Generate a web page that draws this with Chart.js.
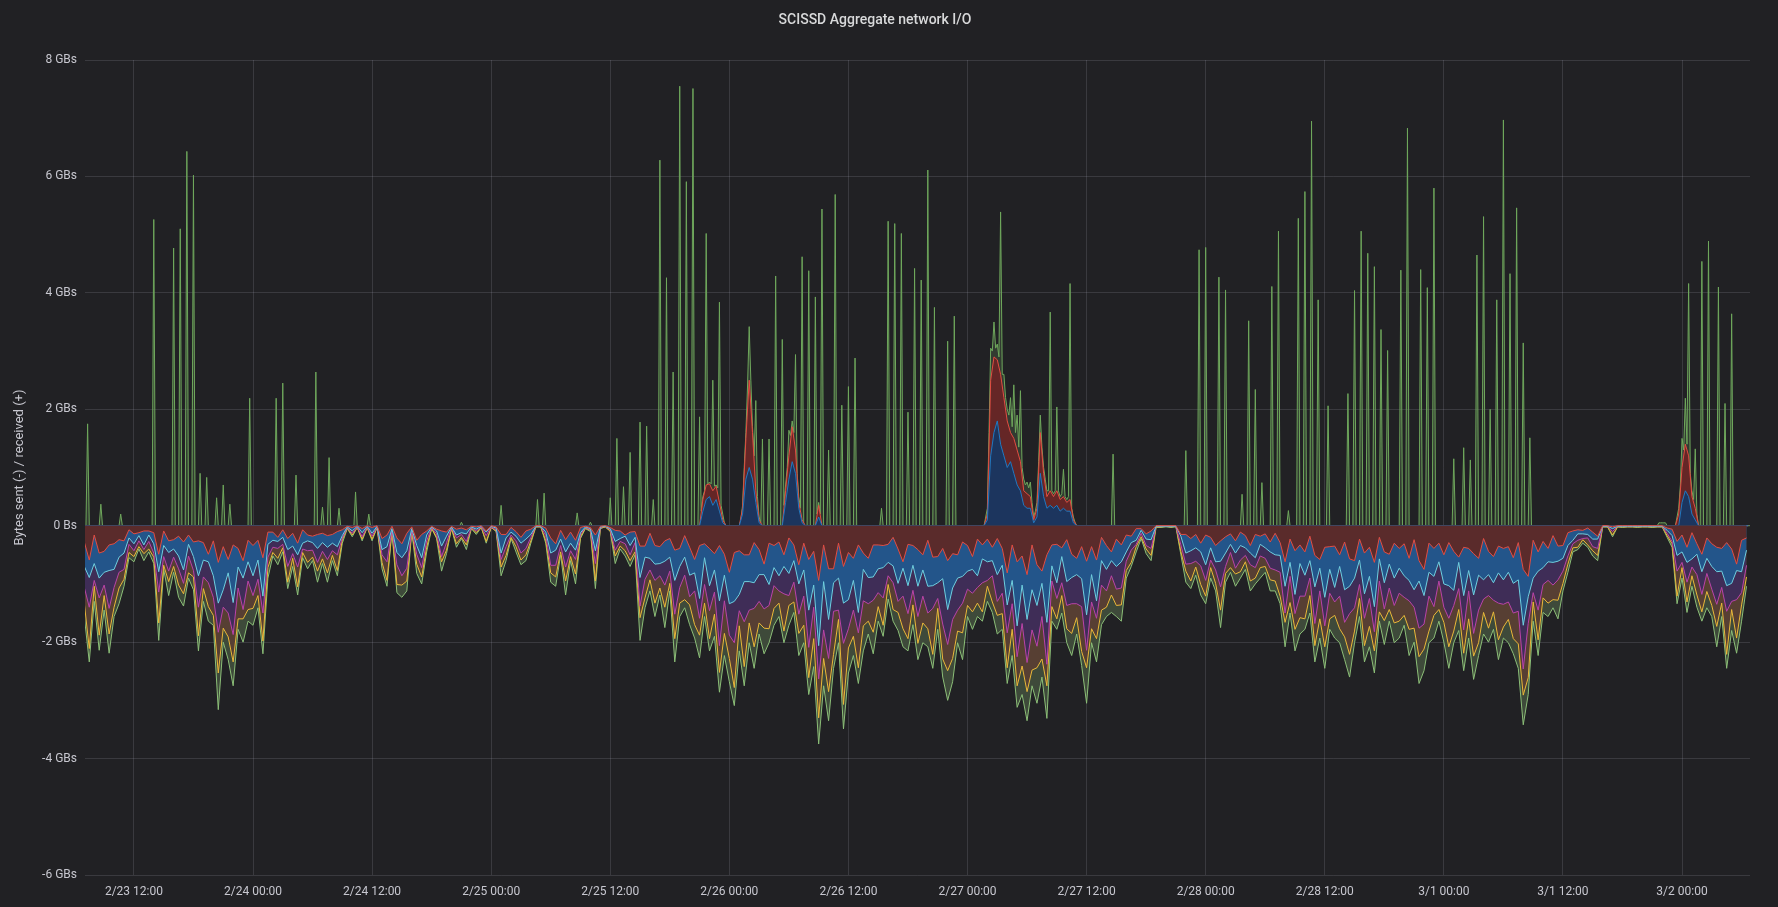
<!DOCTYPE html>
<html><head><meta charset="utf-8">
<script src="https://cdn.jsdelivr.net/npm/chart.js@4.4.1/dist/chart.umd.min.js"></script>
<style>html,body{margin:0;padding:0;background:#212124;}canvas{display:block;}</style>
</head><body>
<canvas id="c" width="1778" height="907"></canvas>
<script>
// Time axis: hours since 2/23 07:00
const tickHours = [5,17,29,41,53,65,77,89,101,113,125,137,149,161];
const tickLabels = ['2/23 12:00','2/24 00:00','2/24 12:00','2/25 00:00','2/25 12:00','2/26 00:00','2/26 12:00','2/27 00:00','2/27 12:00','2/28 00:00','2/28 12:00','3/1 00:00','3/1 12:00','3/2 00:00'];
const stepSent = 0.5, stepRecvTotal = 1/6, stepRecvParts = 1/3;

// Bytes sent (GB, drawn negative), stacked levels, every 30 min
const sentTotal = [
1.56,2.34,1.3,2.14,1.45,2.19,1.56,1.34,1.04,0.55,
0.62,0.4,0.6,0.45,0.65,1.97,0.75,1.2,0.8,1.23,
1.38,0.9,1.1,2.15,1.3,1.64,1.71,3.16,2.0,2.3,
2.75,1.78,2.0,1.64,1.71,1.41,2.2,0.9,0.52,0.67,
0.45,1.08,0.7,1.19,0.55,0.74,0.6,0.97,0.65,0.97,
0.6,0.86,0.3,0.05,0.19,0.03,0.26,0.03,0.26,0.03,
0.74,1.04,0.1,1.15,1.23,1.12,0.1,0.82,1.0,0.45,
0.05,0.22,0.78,0.48,0.05,0.37,0.22,0.41,0.05,0.15,
0.03,0.3,0.03,0.1,0.86,0.6,0.22,0.45,0.67,0.6,
0.3,0.02,0.02,0.3,0.97,1.04,0.5,1.19,0.6,1.0,
0.22,0.05,0.1,1.08,0.05,0.02,0.1,0.65,0.4,0.52,
0.7,0.5,1.97,1.41,1.12,1.56,1.19,1.75,1.12,2.34,
1.56,1.41,1.7,1.93,2.27,1.56,2.15,1.9,2.86,2.23,
2.68,3.09,2.15,2.75,2.01,2.45,1.86,2.2,2.01,1.71,
1.56,2.01,1.71,1.49,2.23,2.01,2.9,2.42,3.75,2.75,
3.35,2.45,2.01,3.49,2.53,2.23,2.71,2.15,1.86,2.2,
1.64,1.9,1.26,1.64,1.8,2.08,2.15,1.7,2.3,2.01,
2.08,2.45,1.78,2.6,3.0,2.68,2.01,2.3,1.56,1.78,
1.56,1.64,1.3,1.49,1.86,1.78,2.71,2.23,3.12,2.9,
3.35,2.75,3.05,2.6,3.31,1.64,1.78,1.5,2.01,2.23,
1.86,2.4,3.05,2.01,2.34,1.7,1.56,1.49,1.56,1.64,
0.9,0.7,0.45,0.22,0.48,0.6,0.03,0.03,0.02,0.03,
0.02,0.5,0.97,1.08,0.85,1.19,1.34,0.9,1.12,1.75,
0.97,0.8,1.04,0.9,0.75,1.12,1.0,0.9,0.8,1.12,
1.12,1.34,2.08,1.5,2.15,1.86,1.78,1.5,2.34,1.93,
2.45,1.78,1.93,2.01,2.3,2.6,2.01,1.56,2.34,2.08,
2.53,1.64,2.04,1.64,2.01,1.93,1.71,2.23,2.0,2.71,
2.49,2.01,1.93,1.64,2.0,2.45,2.01,1.8,2.49,1.93,
2.64,2.23,1.86,2.0,1.78,2.3,1.93,2.01,2.2,2.45,
3.42,2.9,1.64,2.23,1.49,1.56,1.41,1.6,1.12,0.8,
0.45,0.41,0.3,0.37,0.52,0.6,0.02,0.02,0.19,0.02,
0.03,0.02,0.02,0.03,0.02,0.02,0.03,0.02,0.02,0.2,
0.37,1.34,0.9,1.49,1.04,1.4,1.64,1.41,1.56,2.08,
1.56,2.45,1.8,2.19,1.64,1.04];
const sentYellow = [
1.33,2.11,1.04,1.88,1.2,1.86,1.4,1.07,.92,.46,
.53,.36,.48,.4,.54,1.67,.68,.96,.7,1.02,
1.17,.81,.88,1.89,1.08,1.39,1.54,2.53,1.76,1.91,
2.34,1.6,1.6,1.44,1.42,1.2,1.98,.72,.46,.56,
.38,.97,.56,1.05,.46,.63,.54,.78,.57,.81,
.51,.77,.24,.04,.16,.03,.23,.03,.23,.03,
.63,.94,.08,1.01,1.02,.95,.09,.66,.88,.37,
.04,.2,.62,.42,.04,.31,.2,.33,.04,.12,
.03,.27,.03,.09,.71,.51,.2,.36,.59,.5,
.26,.02,.02,.26,.81,.88,.45,.95,.53,.83,
.19,.04,.08,.95,.04,.02,.09,.52,.35,.43,
.6,.45,1.58,1.24,.93,1.33,1.07,1.4,.99,1.94,
1.33,1.27,1.36,1.7,1.88,1.33,1.94,1.52,2.52,1.85,
2.28,2.78,1.72,2.42,1.67,2.08,1.67,1.76,1.77,1.42,
1.33,1.81,1.37,1.31,1.85,1.71,2.61,1.94,3.3,2.28,
2.85,2.21,1.61,3.07,2.1,1.9,2.44,1.72,1.64,1.83,
1.39,1.71,1.01,1.44,1.49,1.77,1.94,1.36,2.02,1.67,
1.77,2.21,1.42,2.29,2.49,2.28,1.81,1.84,1.37,1.48,
1.33,1.48,1.04,1.31,1.54,1.51,2.44,1.78,2.75,2.41,
2.85,2.48,2.44,2.29,2.75,1.39,1.6,1.2,1.77,1.85,
1.58,2.16,2.44,1.77,1.94,1.45,1.4,1.19,1.37,1.36,
.77,.63,.36,.19,.4,.51,.02,.02,.01,.02,
.01,.45,.78,.95,.71,1.01,1.21,.72,.99,1.45,
.82,.72,.83,.79,.62,.95,.9,.72,.7,.93,
.95,1.21,1.66,1.32,1.78,1.58,1.6,1.2,2.06,1.6,
2.08,1.6,1.54,1.77,1.91,2.21,1.81,1.25,2.06,1.73,
2.15,1.48,1.63,1.44,1.67,1.64,1.54,1.78,1.76,2.25,
2.12,1.81,1.54,1.44,1.66,2.08,1.81,1.44,2.19,1.6,
2.24,2.01,1.49,1.76,1.48,1.96,1.74,1.61,1.94,2.03,
2.91,2.61,1.31,1.96,1.24,1.33,1.27,1.28,.99,.66,
.38,.37,.24,.33,.43,.51,.02,.02,.16,.02,
.02,.02,.02,.02,.02,.02,.02,.02,.02,.17,
.31,1.21,.72,1.31,.86,1.19,1.48,1.13,1.37,1.73,
1.33,2.21,1.44,1.93,1.36,.88];
const sentPink = [
1.06,1.4,.94,1.24,1.02,1.42,1.06,.8,.75,.32,
.43,.26,.41,.27,.47,1.14,.53,.78,.54,.74,
.99,.52,.77,1.4,.88,.98,1.23,1.83,1.4,1.5,
1.87,1.07,1.44,.95,1.2,.92,1.5,.54,.37,.39,
.32,.7,.48,.71,.4,.43,.42,.63,.44,.58,
.43,.5,.21,.03,.13,.02,.19,.02,.18,.02,
.5,.62,.07,.67,.86,.73,.07,.49,.72,.26,
.03,.14,.53,.29,.03,.21,.15,.27,.03,.09,
.02,.17,.02,.07,.58,.36,.16,.26,.47,.39,
.2,.01,.01,.17,.68,.68,.34,.71,.43,.58,
.15,.03,.07,.65,.03,.01,.07,.42,.27,.31,
.5,.29,1.38,.92,.76,.94,.86,1.02,.78,1.52,
1.06,.85,1.22,1.12,1.59,1.01,1.46,1.14,2.06,1.29,
1.88,2.01,1.46,1.65,1.45,1.42,1.3,1.43,1.37,1.03,
1.12,1.17,1.2,.97,1.52,1.21,2.09,1.4,2.63,1.79,
2.28,1.47,1.45,2.02,1.77,1.45,1.84,1.29,1.34,1.28,
1.15,1.24,.86,.98,1.3,1.21,1.51,1.11,1.56,1.21,
1.5,1.42,1.25,1.69,2.04,1.61,1.45,1.33,1.09,1.16,
1.06,.98,.94,.86,1.3,1.16,1.84,1.34,2.25,1.68,
2.35,1.79,2.07,1.56,2.38,.95,1.25,.98,1.37,1.34,
1.34,1.39,2.14,1.31,1.59,1.02,1.12,.86,1.09,1.07,
.61,.42,.32,.13,.34,.39,.01,.01,.01,.01,
.01,.33,.66,.65,.61,.69,.94,.59,.76,1.05,
.7,.46,.73,.59,.51,.67,.72,.52,.56,.73,
.76,.8,1.5,.87,1.51,1.21,1.21,.9,1.68,1.12,
1.72,1.16,1.31,1.21,1.66,1.51,1.41,1.01,1.59,1.25,
1.82,.95,1.43,1.07,1.37,1.16,1.23,1.29,1.4,1.76,
1.69,1.21,1.39,.95,1.4,1.59,1.37,1.08,1.79,1.12,
1.85,1.45,1.26,1.2,1.28,1.33,1.35,1.31,1.5,1.47,
2.46,1.68,1.15,1.45,1.01,.94,1.02,.93,.78,.52,
.31,.25,.22,.21,.36,.39,.01,.01,.1,.01,
.01,.01,.01,.01,.01,.01,.01,.01,.01,.13,
.27,.78,.63,.97,.71,.84,1.18,.82,1.09,1.35,
1.06,1.47,1.3,1.27,1.15,.68];
const sentBlue = [
.7,.89,.65,.9,.8,.77,.75,.54,.47,.21,
.31,.17,.33,.16,.31,.79,.34,.46,.4,.52,
.76,.32,.53,.86,.59,.62,.86,1.33,1.1,.81,
1.32,.71,.9,.62,.86,.59,1.21,.32,.25,.27,
.2,.41,.35,.5,.3,.26,.29,.39,.29,.37,
.3,.36,.17,.02,.09,.01,.12,.01,.13,.01,
.41,.36,.05,.46,.55,.43,.05,.34,.55,.16,
.02,.09,.35,.18,.02,.16,.12,.14,.02,.06,
.01,.11,.01,.04,.47,.21,.11,.18,.3,.23,
.15,.01,.01,.11,.47,.42,.23,.45,.3,.42,
.12,.02,.05,.43,.02,.01,.05,.27,.22,.18,
.34,.2,.89,.54,.56,.66,.65,.61,.54,.94,
.7,.54,.85,.81,1.25,.55,1.03,.76,1.29,.85,
1.34,1.3,1.18,.96,.96,.98,.84,.84,1.01,.72,
.86,.7,.82,.6,1.0,.76,1.45,1.02,2.06,.96,
1.61,.98,.9,1.33,1.27,.94,1.49,.75,.89,.88,
.74,.72,.63,.69,.99,.73,1.03,.68,1.04,.76,
1.04,1.03,.98,.91,1.44,1.07,.9,.87,.78,.75,
.86,.57,.62,.6,.84,.68,1.36,.94,1.72,1.02,
1.61,1.1,1.37,.99,1.66,.69,.98,.53,.96,.89,
.84,.91,1.53,.84,1.29,.6,.75,.6,.7,.62,
.45,.29,.25,.08,.23,.24,.01,.01,.01,.01,
.01,.18,.47,.43,.38,.45,.67,.38,.62,.61,
.47,.32,.47,.34,.38,.47,.55,.32,.38,.45,
.5,.51,1.04,.63,1.18,.65,.85,.6,1.05,.73,
1.23,.75,1.06,.7,1.1,1.04,.9,.59,1.17,.87,
1.39,.57,.98,.66,.9,.73,.86,.94,1.1,.95,
1.2,.8,.87,.62,1.0,1.03,1.11,.63,1.2,.77,
1.19,.85,.93,.84,.98,.81,.93,.8,.99,.93,
1.71,1.22,.9,.78,.72,.62,.63,.61,.56,.34,
.25,.14,.14,.15,.23,.23,.01,.01,.05,.01,
.01,.01,.01,.01,.01,.01,.01,.01,.01,.08,
.17,.51,.45,.63,.57,.49,.79,.56,.7,.79,
.78,1.03,.99,.77,.79,.42];
const sentRed = [
.28,.59,.16,.47,.44,.33,.31,.24,.26,.07,
.14,.12,.09,.09,.12,.49,.09,.26,.24,.18,
.28,.16,.28,.26,.29,.49,.26,.63,.36,.58,
.33,.39,.6,.25,.34,.25,.55,.11,.11,.2,
.07,.22,.13,.3,.07,.16,.18,.15,.13,.17,
.15,.1,.07,.01,.03,0,.05,0,.03,0,
.22,.16,.01,.21,.31,.13,.02,.25,.15,.09,
.01,.06,.09,.11,.01,.06,.04,.07,.01,.02,
0,.09,0,.02,.15,.15,.03,.1,.2,.09,
.06,0,0,.04,.21,.31,.08,.24,.11,.25,
.03,.01,.03,.16,.01,0,.03,.08,.09,.16,
.11,.1,.35,.35,.13,.34,.36,.26,.22,.42,
.39,.17,.37,.58,.34,.31,.39,.48,.34,.49,
.8,.46,.43,.5,.5,.29,.41,.66,.3,.34,
.28,.5,.21,.33,.67,.3,.58,.44,.94,.33,
.74,.74,.3,.7,.46,.56,.33,.47,.56,.33,
.33,.34,.32,.2,.4,.62,.32,.34,.41,.5,
.25,.54,.53,.39,.6,.48,.5,.28,.34,.53,
.23,.33,.23,.37,.22,.39,.81,.33,.62,.52,
.84,.33,.67,.78,.5,.33,.32,.38,.24,.49,
.56,.36,.61,.36,.59,.2,.34,.45,.23,.33,
.16,.18,.05,.05,.14,.09,0,0,0,0,
0,.15,.15,.22,.15,.3,.16,.2,.34,.26,
.19,.14,.26,.11,.17,.34,.15,.18,.14,.28,
.13,.29,.62,.23,.43,.33,.45,.18,.51,.58,
.37,.36,.35,.5,.28,.57,.6,.23,.47,.37,
.63,.2,.45,.49,.3,.39,.31,.56,.24,.6,
.75,.3,.39,.3,.5,.29,.44,.54,.37,.39,
.48,.56,.22,.44,.53,.35,.39,.36,.55,.29,
.75,.87,.25,.45,.27,.39,.17,.35,.34,.12,
.09,.07,.08,.04,.11,.18,0,0,.02,0,
0,0,0,0,0,0,0,0,0,.04,
.06,.27,.16,.37,.12,.31,.49,.21,.31,.37,
.39,.29,.4,.66,.25,.21];

// Bytes received (GB, positive), total, every 10 min
const recvTotal = [
0,0,1.75,0,0,0,0,0,0,0,0.37,0,0,0,0,0,0,0,0,0,0,0,0.2,0,
0,0,0,0,0,0,0,0,0,0,0,0,0,0,0,0,0,0,5.26,0,0,0,0,0,
0,0,0,0,0,0,4.77,0,0,0,5.1,0,0,0,6.43,0,0,0,6.02,0,0,0,0.9,0,
0,0,0.83,0,0,0,0,0,0.48,0,0,0,0.7,0,0,0,0.37,0,0,0,0,0,0,0,
0,0,0,0,2.19,0,0,0,0,0,0,0,0,0,0,0,0,0,0,0,2.19,0,0,0,
2.45,0,0,0,0,0,0,0,0.87,0,0,0,0,0,0,0,0,0,0,0,2.64,0,0,0,
0.32,0,0,0,1.17,0,0,0,0,0,0.3,0,0,0,0,0,0,0,0,0,0.58,0,0,0,
0,0,0,0,0.2,0,0,0,0,0,0,0,0,0,0,0,0,0,0,0,0,0,0,0,
0,0,0,0,0,0,0,0,0,0,0,0,0,0,0,0,0,0,0,0,0,0,0,0,
0,0,0,0,0,0,0,0,0,0,0,0,0.06,0,0,0,0,0,0,0,0,0,0,0,
0,0,0,0,0,0,0,0,0,0,0,0,0.35,0,0,0,0,0,0,0,0,0,0,0,
0,0,0,0,0,0,0,0,0,0,0.45,0,0,0,0.56,0,0,0,0,0,0,0,0,0,
0,0,0,0,0,0,0,0,0,0,0.22,0,0,0,0,0,0,0,0.06,0,0,0,0,0,
0,0,0,0,0,0,0.48,0,0,0,1.5,0,0,0,0.67,0,0,0,1.26,0,0,0,0,0,
1.78,0,0,0,1.71,0,0,0,0.45,0,0,0,6.28,0,0,0,4.26,0,0,0,2.64,0,0,0,
7.55,0,0,0,5.91,0,0,0,7.51,0,0,0,1.87,0.25,0.5,0.6,5.02,0.72,0.75,0.72,2.5,0.68,0.7,0.65,
3.84,0.35,0.2,0.05,0,0,0,0,0,0,0,0,0,0.1,0.35,1.0,1.6,2.4,3.42,2.5,1.7,1.2,2.15,0.5,
0.15,0.05,1.49,0,0,0,1.49,0,0,0,4.29,0,0,0,3.2,0.35,0.7,1.0,1.64,1.55,1.8,1.6,2.94,0.9,
0.5,0.3,4.62,0,0,0,4.38,0,0,0,3.93,0.2,0.4,0.2,5.44,0,0,0,1.3,0,0,0,5.69,0,
0,0,2.07,0,0,0,2.39,0,0,0,2.88,0,0,0,0,0,0,0,0,0,0,0,0,0,
0,0,0.3,0,0,0,5.23,0,0,0,5.19,0,0,0,5.02,0,0,0,1.95,0,0,0,4.42,0,
0,0,4.22,0,0,0,6.11,0,0,0,3.75,0,0,0,0,0,0,0,3.17,0,0,0,3.6,0,
0,0,0,0,0,0,0,0,0,0,0,0,0,0,0,0,0,0.15,0.3,1.6,3.05,3.0,3.5,3.05,
3.12,2.9,5.39,2.6,2.6,2.2,2.0,1.9,2.2,1.7,2.42,1.6,1.9,1.35,2.32,1.0,0.8,0.7,0.75,0.65,0.75,0.4,0.15,0.25,
0.4,1.1,1.9,1.35,1.0,0.8,0.6,0.6,3.67,0.6,0.55,0.6,2.04,0.6,0.5,0.55,0.97,0.5,0.45,0.5,4.16,0.3,0.15,0.06,
0,0,0,0,0,0,0,0,0,0,0,0,0,0,0,0,0,0,0,0,0,0,1.23,0,
0,0,0,0,0,0,0,0,0,0,0,0,0,0,0,0,0,0,0,0,0,0,0,0,
0,0,0,0,0,0,0,0,0,0,0,0,0,0,0,0,0,0,1.29,0,0,0,0,0,
0,0,4.74,0,0,0,4.78,0,0,0,0,0,0,0,4.27,0,0,0,4.05,0,0,0,0,0,
0,0,0,0,0.54,0,0,0,3.52,0,0,0,2.34,0,0,0,0.74,0,0,0,0,0,4.11,0,
0,0,5.06,0,0,0,0,0,0.26,0,0,0,0,0,5.28,0,0,0,5.74,0,0,0,6.95,0,
0,0,3.88,0,0,0,0,0,2.06,0,0,0,0,0,0,0,0,0,0,0,2.27,0,0,0,
4.04,0,0,0,5.06,0,0,0,4.68,0,0,0,4.45,0,0,0,3.37,0,0,0,3.01,0,0,0,
0,0,0,0,4.39,0,0,0,6.83,0,0,0,0,0,0,0,4.4,0,0,0,4.09,0,0,0,
5.8,0,0,0,0,0,0,0,0,0,0,0,1.15,0,0,0,0,0,1.34,0,0,0,1.13,0,
0,0,4.65,0,0,0,5.31,0,0,0,2.0,0,0,0,3.88,0,0,0,6.97,0,0,0,4.33,0,
0,0,5.46,0,0,0,3.14,0,0,0,1.51,0,0,0,0,0,0,0,0,0,0,0,0,0,
0,0,0,0,0,0,0,0,0,0,0,0,0,0,0,0,0,0,0,0,0,0,0,0,
0,0,0,0,0,0,0,0,0,0,0,0,0,0,0,0,0,0,0,0,0,0,0,0,
0,0,0,0,0,0,0,0,0,0,0,0,0,0,0,0,0.05,0.05,0.05,0.05,0.05,0,0,0,
0,0,0,0.15,0.3,0.7,1.5,1.3,2.19,1.4,4.16,0.9,0.6,0.45,1.32,0.2,0,0,4.54,0,0,0,4.89,0,
0,0,0,0,4.1,0,0,0,2.1,0,0,0,3.64,0,0,0,0,0,0,0,0,0,0,0];

// Bytes received, coloured inner levels (every 20 min)
const recvRed = [
0,0,0,0,0,0,0,0,0,0,0,0,0,0,0,0,0,0,0,0,0,0,0,0,
0,0,0,0,0,0,0,0,0,0,0,0,0,0,0,0,0,0,0,0,0,0,0,0,
0,0,0,0,0,0,0,0,0,0,0,0,0,0,0,0,0,0,0,0,0,0,0,0,
0,0,0,0,0,0,0,0,0,0,0,0,0,0,0,0,0,0,0,0,0,0,0,0,
0,0,0,0,0,0,0,0,0,0,0,0,0,0,0,0,0,0,0,0,0,0,0,0,
0,0,0,0,0,0,0,0,0,0,0,0,0,0,0,0,0,0,0,0,0,0,0,0,
0,0,0,0,0,0,0,0,0,0,0,0,0,0,0,0,0,0,0,0,0,0,0,0,
0,0,0,0,0,0,0,0,0,0,0,0,0,0,0,0,0,0,0,0.45,0.7,0.72,0.6,0.68,
0.4,0.1,0,0,0,0,0,0.3,1.5,2.5,1.6,0.6,0.1,0,0,0,0,0,0,0,0.6,1.2,1.7,1.3,
0.4,0.1,0,0,0,0,0.35,0,0,0,0,0,0,0,0,0,0,0,0,0,0,0,0,0,
0,0,0,0,0,0,0,0,0,0,0,0,0,0,0,0,0,0,0,0,0,0,0,0,
0,0,0,0,0,0,0,0,0,0.2,2.5,2.9,2.85,2.6,2.2,1.8,1.6,1.5,1.3,1.1,0.6,0.55,0.5,0.1,
0.3,1.6,0.9,0.5,0.6,0.5,0.6,0.45,0.5,0.4,0.45,0.1,0,0,0,0,0,0,0,0,0,0,0,0,
0,0,0,0,0,0,0,0,0,0,0,0,0,0,0,0,0,0,0,0,0,0,0,0,
0,0,0,0,0,0,0,0,0,0,0,0,0,0,0,0,0,0,0,0,0,0,0,0,
0,0,0,0,0,0,0,0,0,0,0,0,0,0,0,0,0,0,0,0,0,0,0,0,
0,0,0,0,0,0,0,0,0,0,0,0,0,0,0,0,0,0,0,0,0,0,0,0,
0,0,0,0,0,0,0,0,0,0,0,0,0,0,0,0,0,0,0,0,0,0,0,0,
0,0,0,0,0,0,0,0,0,0,0,0,0,0,0,0,0,0,0,0,0,0,0,0,
0,0,0,0,0,0,0,0,0,0,0,0,0,0,0,0,0,0,0,0,0,0,0,0,
0,0,0.2,1.0,1.4,1.2,0.5,0.3,0,0,0,0,0,0,0,0,0,0,0,0,0,0,0,0];
const recvNavy = [
0,0,0,0,0,0,0,0,0,0,0,0,0,0,0,0,0,0,0,0,0,0,0,0,
0,0,0,0,0,0,0,0,0,0,0,0,0,0,0,0,0,0,0,0,0,0,0,0,
0,0,0,0,0,0,0,0,0,0,0,0,0,0,0,0,0,0,0,0,0,0,0,0,
0,0,0,0,0,0,0,0,0,0,0,0,0,0,0,0,0,0,0,0,0,0,0,0,
0,0,0,0,0,0,0,0,0,0,0,0,0,0,0,0,0,0,0,0,0,0,0,0,
0,0,0,0,0,0,0,0,0,0,0,0,0,0,0,0,0,0,0,0,0,0,0,0,
0,0,0,0,0,0,0,0,0,0,0,0,0,0,0,0,0,0,0,0,0,0,0,0,
0,0,0,0,0,0,0,0,0,0,0,0,0,0,0,0,0,0,0,0.25,0.45,0.5,0.35,0.45,
0.25,0.05,0,0,0,0,0,0.2,0.8,1.0,0.8,0.4,0.05,0,0,0,0,0,0,0,0.4,0.8,1.1,0.9,
0.3,0.05,0,0,0,0,0.15,0,0,0,0,0,0,0,0,0,0,0,0,0,0,0,0,0,
0,0,0,0,0,0,0,0,0,0,0,0,0,0,0,0,0,0,0,0,0,0,0,0,
0,0,0,0,0,0,0,0,0,0.1,1.2,1.6,1.8,1.4,1.2,1.0,1.1,0.9,0.7,0.6,0.35,0.3,0.3,0.05,
0.15,0.9,0.5,0.3,0.35,0.3,0.35,0.25,0.3,0.25,0.25,0.05,0,0,0,0,0,0,0,0,0,0,0,0,
0,0,0,0,0,0,0,0,0,0,0,0,0,0,0,0,0,0,0,0,0,0,0,0,
0,0,0,0,0,0,0,0,0,0,0,0,0,0,0,0,0,0,0,0,0,0,0,0,
0,0,0,0,0,0,0,0,0,0,0,0,0,0,0,0,0,0,0,0,0,0,0,0,
0,0,0,0,0,0,0,0,0,0,0,0,0,0,0,0,0,0,0,0,0,0,0,0,
0,0,0,0,0,0,0,0,0,0,0,0,0,0,0,0,0,0,0,0,0,0,0,0,
0,0,0,0,0,0,0,0,0,0,0,0,0,0,0,0,0,0,0,0,0,0,0,0,
0,0,0,0,0,0,0,0,0,0,0,0,0,0,0,0,0,0,0,0,0,0,0,0,
0,0,0,0.4,0.6,0.5,0.2,0.1,0,0,0,0,0,0,0,0,0,0,0,0,0,0,0,0];

// Grafana "negative-Y" transform for sent series
const SENT_SIGN = -1;
function pts(arr, step, sign){ return arr.map((v,i)=>({x:i*step, y:v*sign})); }
function ds(label, arr, step, sign, line, fillColor){
  return {label, data: pts(arr, step, sign), borderColor: line, backgroundColor: fillColor, fill: 'origin', borderWidth: 1, pointRadius: 0, tension: 0};
}
const txt = '#c7c7cf';
const gridCol = 'rgba(204,204,220,0.15)';

new Chart(document.getElementById('c'), {
  type: 'line',
  data: { datasets: [
    ds('sent A', sentRed, stepSent, SENT_SIGN, '#e24d42', '#5a2b2b'),
    ds('sent B', sentBlue, stepSent, SENT_SIGN, '#6ed0e0', '#23558a'),
    ds('sent C', sentPink, stepSent, SENT_SIGN, '#ba43a9', '#3f2d57'),
    ds('sent D', sentYellow, stepSent, SENT_SIGN, '#eab839', '#573f33'),
    ds('sent total', sentTotal, stepSent, SENT_SIGN, '#8cbf78', '#3e4a3a'),
    ds('recv A', recvNavy, stepRecvParts, 1, '#1f78c1', '#1c355e'),
    ds('recv B', recvRed, stepRecvParts, 1, '#e24d42', '#652626'),
    ds('recv total', recvTotal, stepRecvTotal, 1, '#6fa85c', 'rgba(126,178,109,0.18)')
  ]},
  options: {
    responsive: false, animation: false, devicePixelRatio: 1,
    layout: { padding: { left: 0, right: 28, top: 0, bottom: 0 } },
    plugins: {
      legend: { display: false }, tooltip: { enabled: false },
      title: { display: true, text: 'SCISSD Aggregate network I/O', color: '#d8d9da',
        font: { family: 'Roboto', size: 14, weight: '500', lineHeight: 1.2 }, padding: { top: 12, bottom: 31.2 } }
    },
    scales: {
      x: {
        type: 'linear', min: 0.07, max: 167.85,
        afterBuildTicks: s => { s.ticks = tickHours.map(v => ({ value: v })); },
        afterFit: s => { s.height = 32; },
        ticks: { callback: (v, i) => tickLabels[i], color: txt, font: { family: 'Roboto', size: 12 }, maxRotation: 0, autoSkip: false, padding: 10 },
        grid: { color: gridCol, drawTicks: false }, border: { display: false }
      },
      y: {
        min: -6, max: 8,
        afterFit: s => { s.width = 85; },
        ticks: { stepSize: 2, callback: v => v === 0 ? '0 Bs' : v + ' GBs', color: txt, font: { family: 'Roboto', size: 12 }, padding: 8 },
        title: { display: true, text: 'Bytes sent (-) / received (+)', color: txt, font: { family: 'Roboto', size: 13 }, padding: { top: 12, bottom: 0 } },
        grid: { color: gridCol, drawTicks: false }, border: { display: false }
      }
    }
  }
});
</script>
</body></html>
